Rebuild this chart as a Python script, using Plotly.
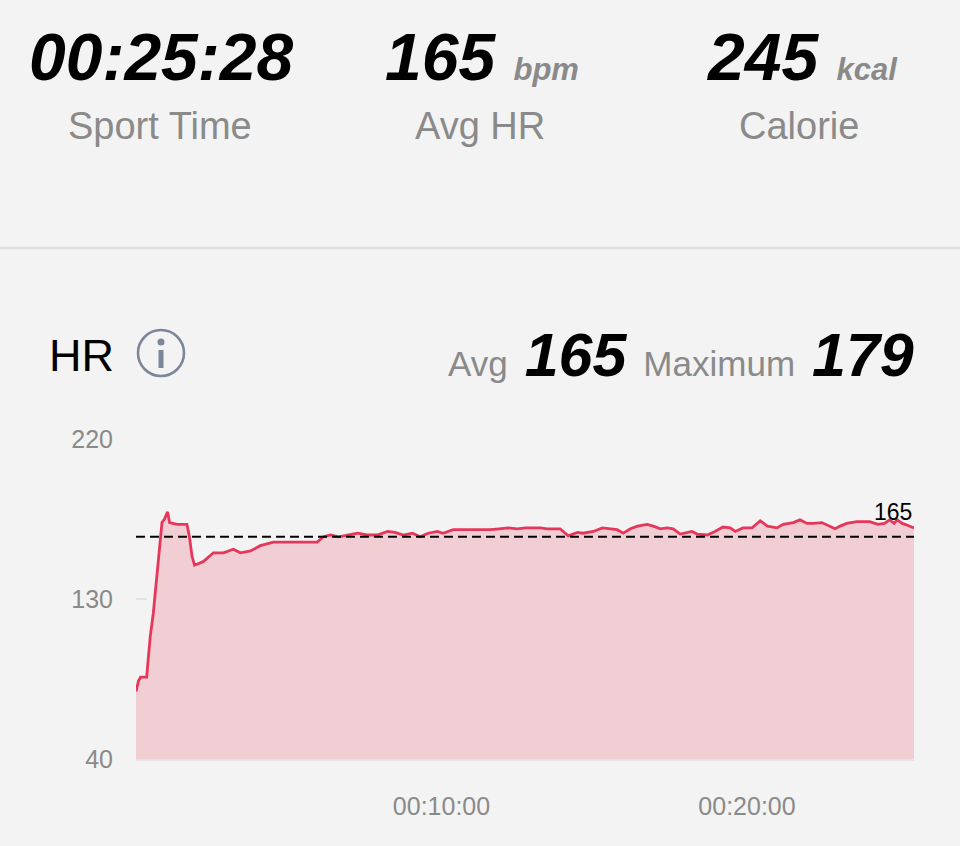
import plotly.graph_objects as go

# ---------------- data ----------------
sport_time = "00:25:28"
avg_hr = 165
max_hr = 179
calorie = 245
duration_s = 1528

time_s = [0, 5, 9, 21, 23, 28, 34, 40, 48, 51, 56, 62, 66, 81, 100, 105, 110, 115, 132, 152,
          172, 191, 205, 225, 244, 270, 284, 303, 323, 342, 356, 368, 382, 398, 415, 435, 454,
          474, 494, 509, 525, 543, 558, 574, 592, 603, 623, 641, 657, 676, 696, 713, 731, 749,
          765, 780, 794, 808, 833, 849, 867, 878, 898, 916, 931, 945, 957, 971, 985, 1004, 1016,
          1030, 1043, 1055, 1069, 1082, 1092, 1102, 1122, 1137, 1153, 1167, 1177, 1192, 1210,
          1226, 1240, 1259, 1271, 1291, 1304, 1318, 1330, 1347, 1359, 1373, 1383, 1396, 1416,
          1441, 1457, 1470, 1480, 1489, 1495, 1505, 1515, 1528]
hr_bpm = [78, 84, 86, 86, 93, 109, 122, 139, 165, 173, 175, 179, 173, 172, 172, 165, 154, 149, 151, 156,
          156, 158, 156, 157, 160, 162, 162, 162, 162, 162, 162, 165, 166, 165, 166, 167, 166,
          166, 168, 167.5, 166, 167, 165, 167, 168, 167, 169, 169, 169, 169, 169, 169.5, 170, 169.5,
          170, 170, 170, 169.5, 169.5, 165.5, 167.5, 167, 168, 170, 169.5, 169, 167, 169.5, 171, 172, 171,
          169.5, 170, 169.5, 166.5, 167.5, 168, 166.5, 166, 168, 170.5, 170, 168, 170, 170,
          174, 171, 170, 172, 173, 174.5, 172.5, 172.5, 173, 171.5, 169.5, 171, 172.5, 173.5,
          173.5, 172, 172.5, 174.5, 172.5, 174.5, 172.5, 171.5, 170]

y_ticks = [40, 130, 220]
x_tickvals = [600, 1200]
x_ticktext = ["00:10:00", "00:20:00"]

# ---------------- styling ----------------
BG = "#f3f3f3"
GRAY = "#8a8a8a"
LINE = "#e6375b"
FILL = "#f1cdd4"
FONT = "Liberation Sans, Arial, Helvetica, sans-serif"

W, Hh = 960, 846
L, R, T, B = 136, 914, 439, 759


def px(x):
    return (x - L) / (R - L)


def py(y):
    return (B - y) / (B - T)


fig = go.Figure()
fig.add_trace(go.Scatter(
    x=time_s, y=hr_bpm, mode="lines",
    line=dict(color=LINE, width=2.8),
    fill="tozeroy", fillcolor=FILL,
    hoverinfo="skip", showlegend=False,
))

ann = []
# top statistics
big = "font-size:66px;color:black"
unit = "font-size:31px;color:#8a8a8a"
ann.append(dict(x=px(161), y=py(57), text=f"<span style='{big}'><b><i>{sport_time}</i></b></span>"))
ann.append(dict(x=px(482), y=py(57),
                text=f"<span style='{big}'><b><i>{avg_hr}\u00a0</i></b></span><span style='{unit}'><b><i>bpm</i></b></span>"))
ann.append(dict(x=px(802), y=py(57),
                text=f"<span style='{big}'><b><i>{calorie}\u00a0</i></b></span><span style='{unit}'><b><i>kcal</i></b></span>"))
for cx, lab in [(160, "Sport Time"), (480, "Avg HR"), (799, "Calorie")]:
    ann.append(dict(x=px(cx), y=py(126), text=lab, font=dict(size=38, color=GRAY, family=FONT)))
for a in ann:
    a.update(xref="paper", yref="paper", xanchor="center", yanchor="middle", showarrow=False)
    a.setdefault("font", dict(family=FONT))

# HR header
ann.append(dict(x=px(47), y=py(355), xref="paper", yref="paper", xanchor="left", yanchor="middle",
                showarrow=False, text="HR", font=dict(size=45, color="black", family=FONT)))
g = "font-size:35px;color:#8a8a8a"
b = "font-size:61px;color:black"
ann.append(dict(x=px(916), y=py(355), xref="paper", yref="paper", xanchor="right", yanchor="middle",
                showarrow=False, font=dict(family=FONT),
                text=(f"<span style='{g}'>Avg</span><span style='{b}'><b><i>\u00a0{avg_hr}\u00a0</i></b></span>"
                      f"<span style='{g}'>Maximum</span><span style='{b}'><b><i>\u00a0{max_hr}</i></b></span>")))
# avg line label
ann.append(dict(x=duration_s, y=avg_hr, xref="x", yref="y", xanchor="right", yanchor="bottom",
                showarrow=False, yshift=10, text=str(avg_hr), font=dict(size=23, color="black", family=FONT)))

shapes = [
    dict(type="line", xref="paper", yref="paper", x0=px(0), x1=px(960), y0=py(248), y1=py(248),
         line=dict(color="#dedede", width=2.5)),
    # info icon
    dict(type="circle", xref="paper", yref="paper", x0=px(138), x1=px(184), y0=py(330), y1=py(376),
         line=dict(color="#7b8699", width=2.6)),
    dict(type="circle", xref="paper", yref="paper", x0=px(157.5), x1=px(164.5), y0=py(338.5), y1=py(345.5),
         line=dict(color="#7b8699", width=0), fillcolor="#7b8699"),
    dict(type="line", xref="paper", yref="paper", x0=px(161), x1=px(161), y0=py(350), y1=py(368),
         line=dict(color="#7b8699", width=5)),
]

fig.update_layout(
    width=W, height=Hh,
    paper_bgcolor=BG, plot_bgcolor=BG,
    margin=dict(l=L, r=W - R, t=T, b=Hh - B, pad=0),
    font=dict(family=FONT, color=GRAY),
    annotations=ann, shapes=shapes, showlegend=False,
    xaxis=dict(range=[0, duration_s], tickvals=x_tickvals, ticktext=x_ticktext,
               showgrid=False, zeroline=False, showline=True, linecolor="#e3e3e3", linewidth=2,
               ticks="", tickfont=dict(size=25, color=GRAY), ticklabelstandoff=24, fixedrange=True),
    yaxis=dict(range=[40, 220], tickvals=y_ticks, showgrid=False, zeroline=False, showline=False,
               ticks="inside", ticklen=11, tickwidth=2, tickcolor="#e2e2e2",
               tickfont=dict(size=25, color=GRAY), ticklabelstandoff=22, fixedrange=True),
)

# average reference line (added after the layout shapes so it is not overwritten)
fig.add_hline(y=avg_hr, line=dict(color="black", width=2, dash="9px,5px"))

fig.write_html(
    "out.html",
    config={"displayModeBar": False},
    post_script="document.body.style.margin='0';document.body.style.background='#f3f3f3';",
)
